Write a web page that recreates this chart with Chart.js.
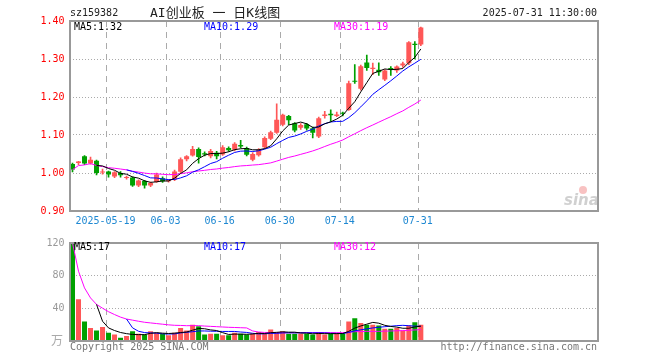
<!DOCTYPE html>
<html>
<head>
<meta charset="utf-8">
<script src="https://cdn.jsdelivr.net/npm/chart.js@4.4.1/dist/chart.umd.min.js"></script>
<style>
  body { margin: 0; background: #fff; }
  #wrap { position: relative; width: 660px; height: 360px; }
  canvas { position: absolute; left: 0; }
  #k { top: 0; }
  #v { top: 232px; }
</style>
</head>
<body>
<div id="wrap">
  <canvas id="k" width="660" height="232"></canvas>
  <canvas id="v" width="660" height="128"></canvas>
</div>
<script>
// 日K数据 (2025-05-09 ~ 2025-07-31)
const dates = ['05-09','05-12','05-13','05-14','05-15','05-16','05-19','05-20','05-21','05-22','05-23',
  '05-26','05-27','05-28','05-29','05-30','06-03','06-04','06-05','06-06','06-09','06-10','06-11','06-12','06-13',
  '06-16','06-17','06-18','06-19','06-20','06-23','06-24','06-25','06-26','06-27','06-30','07-01','07-02','07-03','07-04',
  '07-07','07-08','07-09','07-10','07-11','07-14','07-15','07-16','07-17','07-18','07-21','07-22','07-23','07-24','07-25',
  '07-28','07-29','07-30','07-31'];
const opens  = [1.024,1.026,1.044,1.025,1.032,1.001,1.004,0.991,1.000,0.987,0.988,0.967,0.979,0.967,0.976,0.986,0.978,0.983,1.003,1.036,
  1.046,1.063,1.052,1.044,1.053,1.049,1.066,1.061,1.074,1.066,1.035,1.047,1.068,1.090,1.106,1.127,1.150,1.131,1.119,1.128,
  1.118,1.096,1.150,1.156,1.150,1.158,1.166,1.243,1.222,1.291,1.274,1.272,1.246,1.276,1.270,1.283,1.289,1.340,1.338];
const highs  = [1.026,1.031,1.046,1.042,1.034,1.010,1.005,1.004,1.004,0.992,0.990,0.982,0.981,0.976,1.000,0.990,0.983,1.008,1.040,1.046,
  1.070,1.066,1.056,1.062,1.057,1.072,1.069,1.080,1.086,1.068,1.054,1.064,1.095,1.110,1.182,1.155,1.152,1.133,1.130,1.131,
  1.121,1.147,1.162,1.166,1.160,1.160,1.242,1.285,1.284,1.310,1.289,1.290,1.272,1.280,1.282,1.292,1.346,1.346,1.384];
const lows   = [1.003,1.022,1.022,1.023,0.995,0.997,0.989,0.988,0.989,0.984,0.965,0.964,0.960,0.964,0.975,0.975,0.976,0.980,1.000,1.032,
  1.044,1.026,1.045,1.040,1.037,1.046,1.057,1.058,1.066,1.045,1.032,1.044,1.065,1.088,1.104,1.124,1.127,1.108,1.115,1.113,
  1.092,1.093,1.144,1.136,1.148,1.150,1.165,1.236,1.218,1.270,1.259,1.257,1.243,1.257,1.265,1.278,1.285,1.300,1.335];
const closes = [1.009,1.030,1.025,1.035,1.000,1.003,0.996,1.002,0.994,0.989,0.967,0.980,0.967,0.974,0.996,0.978,0.980,1.004,1.036,1.044,
  1.063,1.042,1.049,1.058,1.044,1.068,1.060,1.077,1.070,1.048,1.050,1.061,1.092,1.107,1.140,1.153,1.139,1.112,1.126,1.117,
  1.106,1.144,1.154,1.152,1.154,1.156,1.236,1.240,1.281,1.276,1.277,1.265,1.270,1.272,1.280,1.288,1.344,1.337,1.383];
// 成交量(万)
const volumes = [120,51,24,16,13,17,10,8,4,6,12,9,8,12,10,9,7,10,16,13,20,18,8,9,9,7,7,10,9,8,
  9,11,9,14,10,12,9,9,9,9,8,11,8,9,9,9,24,28,22,20,20,19,15,15,16,13,19,23,20];

const dateMarks = [6, 16, 25, 35, 45, 58];
const dateText = ['2025-05-19', '06-03', '06-16', '06-30', '07-14', '07-31'];
const slotCount = 88;

const RED = '#ff5757';
const GREEN = '#00a000';
const MONO = "'DejaVu Sans Mono', monospace";

// 均线，MA30 不足30日时取已有天数平均
function ma(arr, n, partial) {
  return arr.map((v, i) => {
    if (i < n - 1 && !partial) return null;
    const s = arr.slice(Math.max(0, i - n + 1), i + 1);
    return s.reduce((a, b) => a + b, 0) / s.length;
  });
}

const slots = [];
for (let i = 0; i < slotCount; i++) slots.push(i < dates.length ? dates[i] : '');

const colors = closes.map((c, i) => c >= opens[i] ? RED : GREEN);
const bodies = opens.map((o, i) => [o, closes[i]]);
const wicks = lows.map((l, i) => [l, highs[i]]);

function lineSet(data, color) {
  return { type: 'line', data: data, borderColor: color, borderWidth: 1, pointRadius: 0, tension: 0, order: 0 };
}

function xScale() {
  return {
    offset: true,
    ticks: { display: false },
    grid: { display: false },
    border: { display: false },
    afterFit: s => { s.height = 0; }
  };
}

function frame(ctx, a) {
  ctx.save();
  ctx.strokeStyle = '#999';
  ctx.lineWidth = 2;
  ctx.strokeRect(70, Math.round(a.top), 528, Math.round(a.bottom - a.top));
  ctx.restore();
}

// 竖向虚线(日期分隔)
const vGrid = {
  id: 'vGrid',
  beforeDatasetsDraw(chart) {
    const ctx = chart.ctx, a = chart.chartArea, xs = chart.scales.x;
    ctx.save();
    ctx.strokeStyle = '#aaa';
    ctx.lineWidth = 1;
    ctx.setLineDash([6, 5]);
    dateMarks.forEach(m => {
      const x = Math.round(xs.getPixelForValue(m) - 3) + 0.5;
      ctx.beginPath();
      ctx.moveTo(x, a.top);
      ctx.lineTo(x, a.bottom);
      ctx.stroke();
    });
    ctx.restore();
  }
};

const kDeco = {
  id: 'kDeco',
  afterDraw(chart) {
    const ctx = chart.ctx, a = chart.chartArea;
    frame(ctx, a);
    ctx.save();
    ctx.font = '10px ' + MONO;
    ctx.fillStyle = '#222';
    ctx.textAlign = 'left';
    ctx.fillText('sz159382', 70, 16);
    ctx.textAlign = 'right';
    ctx.fillText('2025-07-31 11:30:00', 597, 16);
    ctx.textAlign = 'left';
    ctx.font = "13px 'DejaVu Sans Mono', 'Noto Sans CJK SC'";
    ctx.fillText('AI创业板 一 日K线图', 150, 17);
    ctx.font = '10px ' + MONO;
    ctx.fillStyle = '#000';
    ctx.fillText('MA5:1.32', 74, 30);
    ctx.fillStyle = '#0000ff';
    ctx.fillText('MA10:1.29', 204, 30);
    ctx.fillStyle = '#ff00ff';
    ctx.fillText('MA30:1.19', 334, 30);
    // 日期
    ctx.fillStyle = '#1e88d2';
    ctx.textAlign = 'center';
    const xs = chart.scales.x;
    dateMarks.forEach((m, i) => {
      const x = xs.getPixelForValue(m) - 3;
      ctx.fillText(dateText[i], x, 224);
    });
    // sina 水印
    ctx.textAlign = 'left';
    ctx.font = "bold italic 15px 'DejaVu Sans'";
    ctx.fillStyle = 'rgba(170,170,170,0.55)';
    ctx.fillText('sina', 564, 205);
    ctx.fillStyle = 'rgba(240,120,120,0.45)';
    ctx.beginPath();
    ctx.arc(583, 190, 4, 0, Math.PI * 2);
    ctx.fill();
    ctx.restore();
  }
};

const vDeco = {
  id: 'vDeco',
  afterDraw(chart) {
    const ctx = chart.ctx, a = chart.chartArea;
    frame(ctx, a);
    ctx.save();
    ctx.font = '10px ' + MONO;
    ctx.textAlign = 'left';
    ctx.fillStyle = '#000';
    ctx.fillText('MA5:17', 74, 18);
    ctx.fillStyle = '#0000ff';
    ctx.fillText('MA10:17', 204, 18);
    ctx.fillStyle = '#ff00ff';
    ctx.fillText('MA30:12', 334, 18);
    ctx.fillStyle = '#777';
    ctx.fillText('Copyright 2025 SINA.COM', 70, 118);
    ctx.textAlign = 'right';
    ctx.fillText('http://finance.sina.com.cn', 597, 118);
    ctx.fillStyle = '#aaa';
    ctx.textAlign = 'left';
    ctx.font = "12px 'Noto Sans CJK SC'";
    ctx.fillText('万', 51, 113);
    ctx.restore();
  }
};

new Chart(document.getElementById('k'), {
  type: 'bar',
  data: {
    labels: slots,
    datasets: [
      lineSet(ma(closes, 5), '#000'),
      lineSet(ma(closes, 10), '#0000ff'),
      lineSet(ma(closes, 30, true), '#ff00ff'),
      { data: bodies, backgroundColor: colors, barPercentage: 1, categoryPercentage: 5 / 6, grouped: false, minBarLength: 1, order: 1 },
      { data: wicks, backgroundColor: colors, barThickness: 1, grouped: false, order: 2 }
    ]
  },
  options: {
    responsive: false, animation: false, devicePixelRatio: 1,
    layout: { padding: { top: 21, right: 62, bottom: 21, left: 0 } },
    plugins: { legend: { display: false }, tooltip: { enabled: false } },
    scales: {
      x: xScale(),
      y: {
        min: 0.9, max: 1.4,
        ticks: { stepSize: 0.1, color: '#ff0000', padding: 5, font: { family: MONO, size: 10 }, callback: v => v.toFixed(2) },
        grid: { drawTicks: false, color: '#aaa' },
        border: { display: false, dash: [1, 2] },
        afterFit: s => { s.width = 69.5; }
      }
    }
  },
  plugins: [vGrid, kDeco]
});

new Chart(document.getElementById('v'), {
  type: 'bar',
  data: {
    labels: slots,
    datasets: [
      lineSet(ma(volumes, 5), '#000'),
      lineSet(ma(volumes, 10), '#0000ff'),
      lineSet(ma(volumes, 30, true), '#ff00ff'),
      { data: volumes, backgroundColor: colors, barPercentage: 1, categoryPercentage: 5 / 6, grouped: false, order: 1 }
    ]
  },
  options: {
    responsive: false, animation: false, devicePixelRatio: 1,
    layout: { padding: { top: 9, right: 62, bottom: 19, left: 0 } },
    plugins: { legend: { display: false }, tooltip: { enabled: false } },
    scales: {
      x: xScale(),
      y: {
        min: 0, max: 120,
        ticks: { stepSize: 40, color: '#999', padding: 5, font: { family: MONO, size: 10 }, callback: v => v === 0 ? '' : v },
        grid: { drawTicks: false, color: c => (c.tick && (c.tick.value === 40 || c.tick.value === 80)) ? '#aaa' : 'rgba(0,0,0,0)' },
        border: { display: false, dash: [1, 2] },
        afterFit: s => { s.width = 69.5; }
      }
    }
  },
  plugins: [vGrid, vDeco]
});
</script>
</body>
</html>
